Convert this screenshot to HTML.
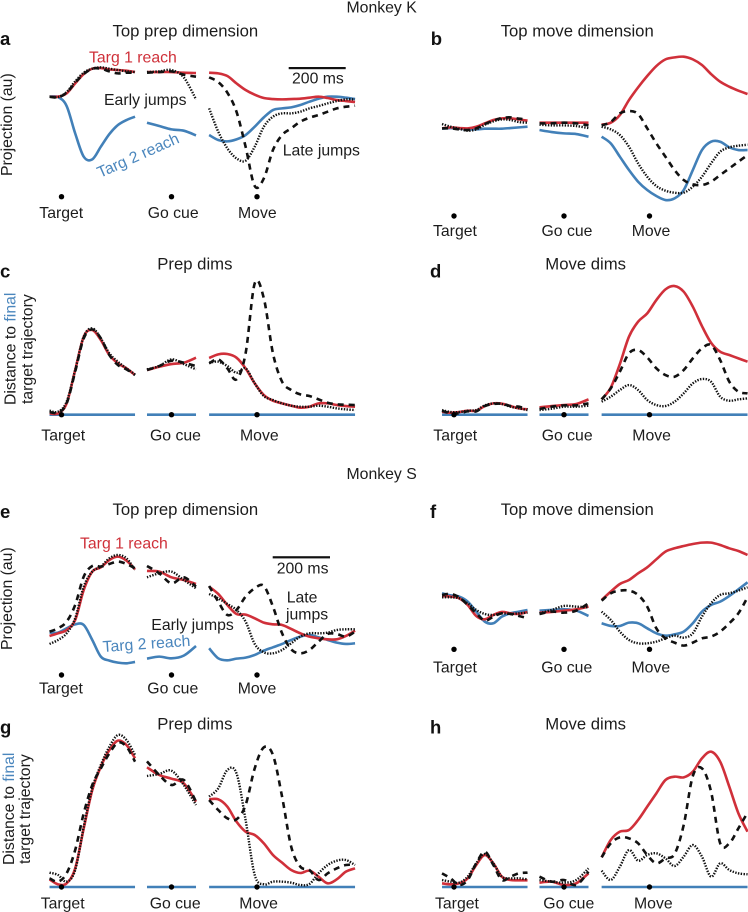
<!DOCTYPE html>
<html lang="en">
<head>
<meta charset="utf-8">
<title>Monkey K and Monkey S neural projections</title>
<style>
html,body{margin:0;padding:0;background:#fff;}
svg{display:block;}
text{font-family:"Liberation Sans",Arial,sans-serif;font-size:15.8px;fill:#1c1c1c;}
.ttl{font-size:16.7px;}
.pl{font-size:18.5px;font-weight:bold;fill:#111;}
.red{fill:#cf3039;}
.blue{fill:#4a86bd;}
</style>
</head>
<body>
<svg id="figure" width="748" height="912" viewBox="0 0 748 912" xmlns="http://www.w3.org/2000/svg">
<rect width="748" height="912" fill="#fff"/>
<text x="346.5" y="12.5">Monkey K</text>
<text x="346.5" y="479">Monkey S</text>

<text class="pl" x="0" y="45">a</text>
<text class="ttl" x="112.5" y="36.7">Top prep dimension</text>
<text transform="translate(12,176) rotate(-90)">Projection (au)</text>
<text class="red" x="89" y="62.7">Targ 1 reach</text>
<text x="104" y="105">Early jumps</text>
<text class="blue" transform="translate(100,178) rotate(-24)">Targ 2 reach</text>
<text x="282.7" y="155.3">Late jumps</text>
<rect x="288.7" y="67" width="57" height="2.2" fill="#111"/>
<text x="292" y="83.3">200 ms</text>
<text x="39.3" y="218">Target</text>
<text x="147.7" y="218">Go cue</text>
<text x="238" y="218">Move</text>

<text class="pl" x="430.7" y="45">b</text>
<text class="ttl" x="500.7" y="36.7">Top move dimension</text>
<text x="433" y="236">Target</text>
<text x="541.5" y="236">Go cue</text>
<text x="631.7" y="236">Move</text>

<text class="pl" x="0" y="277.7">c</text>
<text class="ttl" x="157.3" y="269.3">Prep dims</text>
<text transform="translate(15.7,405) rotate(-90)">Distance to <tspan class="blue">final</tspan></text>
<text transform="translate(32.5,404) rotate(-90)">target trajectory</text>
<text x="41.3" y="440.7">Target</text>
<text x="150" y="440.7">Go cue</text>
<text x="240" y="440.7">Move</text>

<text class="pl" x="430" y="277.7">d</text>
<text class="ttl" x="545.3" y="269.3">Move dims</text>
<text x="433.3" y="440.7">Target</text>
<text x="541.7" y="440.7">Go cue</text>
<text x="632.3" y="440.7">Move</text>

<text class="pl" x="0" y="518">e</text>
<text class="ttl" x="112.5" y="515">Top prep dimension</text>
<text transform="translate(12,650) rotate(-90)">Projection (au)</text>
<text class="red" x="80" y="548.3">Targ 1 reach</text>
<text x="151.3" y="630">Early jumps</text>
<text class="blue" transform="translate(103,652) rotate(-4)">Targ 2 reach</text>
<text x="286.7" y="602.7">Late</text>
<text x="286" y="619.3">jumps</text>
<rect x="272.7" y="556.2" width="57.3" height="2.2" fill="#111"/>
<text x="276.7" y="573.3">200 ms</text>
<text x="39" y="693.3">Target</text>
<text x="147.3" y="693.3">Go cue</text>
<text x="237.7" y="693.3">Move</text>

<text class="pl" x="430" y="518">f</text>
<text class="ttl" x="500.7" y="515">Top move dimension</text>
<text x="433" y="672.3">Target</text>
<text x="541.3" y="672.3">Go cue</text>
<text x="631.5" y="672.3">Move</text>

<text class="pl" x="0" y="733.3">g</text>
<text class="ttl" x="157.3" y="729.3">Prep dims</text>
<text transform="translate(14,865) rotate(-90)">Distance to <tspan class="blue">final</tspan></text>
<text transform="translate(30,864) rotate(-90)">target trajectory</text>
<text x="40.7" y="908.3">Target</text>
<text x="149.7" y="908.3">Go cue</text>
<text x="239.3" y="908.3">Move</text>

<text class="pl" x="430" y="733.3">h</text>
<text class="ttl" x="545.3" y="729.3">Move dims</text>
<text x="435" y="908.3">Target</text>
<text x="543.3" y="908.3">Go cue</text>
<text x="634" y="908.3">Move</text>
</svg>

<script>
// Time samples (ms relative to each alignment event)
const timesTarget = [-42,-12,18,48,78,108,138,168,198,228,258];
const timesGo = [-86,-43,0,43,86];
const timesMove = [-168,-136,-104,-72,-40,-8,24,56,88,120,152,184,216,248,280,312,344];

// Distance to final target trajectory is zero by definition
const zeroTarget = [0,0,0,0,0,0,0,0,0,0,0];
const zeroGo = [0,0,0,0,0];
const zeroMove = [0,0,0,0,0,0,0,0,0,0,0,0,0,0,0,0,0];

// Panel a
const aBlueTarget = [0,-1,-28,-110,-180,-188,-150,-112,-85,-70,-60];
const aBlueGo = [-78,-88,-98,-102,-116];
const aBlueMove = [-115,-130,-134,-128,-115,-90,-62,-40,-35,-32,-25,-15,-6,0,0,-3,-7];
const aRedTarget = [0,0,10,40,68,84,86,82,80,78,74];
const aRedGo = [74,74,74,72,71];
const aRedMove = [72,70,62,40,20,6,-4,-7,-8,-7,-6,-3,0,-4,-10,-13,-16];
const aDotTarget = [0,-1,14,46,72,84,88,84,80,76,74];
const aDotGo = [74,76,80,58,-8];
const aDotMove = [-35,-105,-155,-185,-192,-150,-90,-60,-50,-50,-45,-35,-28,-20,-13,-8,-8];
const aDashTarget = [0,-2,12,42,68,84,84,76,70,72,72];
const aDashGo = [72,74,76,66,60];
const aDashMove = [58,44,12,-45,-150,-268,-245,-160,-115,-95,-75,-63,-55,-45,-35,-30,-27];

// Panel b
const bBlueTarget = [-6,-4,-6,-8,-8,-6,-6,-6,-4,-2,0];
const bBlueGo = [-10,-16,-20,-22,-30];
const bBlueMove = [-30,-50,-90,-130,-165,-190,-208,-220,-215,-190,-130,-70,-45,-45,-62,-70,-70];
const bRedTarget = [-5,-2,-4,-5,0,10,20,25,25,22,18];
const bRedGo = [12,12,12,12,12];
const bRedMove = [6,12,35,80,118,152,182,202,208,210,202,185,158,135,120,108,98];
const bDotTarget = [8,0,-6,-12,-8,6,16,22,20,14,12];
const bDotGo = [6,4,4,2,-4];
const bDotMove = [0,-8,-25,-60,-110,-150,-178,-192,-198,-198,-180,-150,-110,-75,-62,-57,-54];
const bDashTarget = [-5,-5,-8,-10,-5,8,18,26,28,24,22];
const bDashGo = [10,10,12,10,4];
const bDashMove = [4,14,40,47,38,-5,-50,-90,-130,-160,-173,-175,-165,-145,-125,-105,-85];

// Panel c
const cRedTarget = [4,4,34,134,234,254,224,179,154,139,119];
const cRedGo = [134,144,152,156,171];
const cRedMove = [170,181,182,171,139,94,59,42,34,27,21,24,34,34,29,26,24];
const cDotTarget = [12,9,39,134,234,259,229,184,159,139,121];
const cDotGo = [136,146,166,152,136];
const cDotMove = [156,159,146,126,139,94,56,44,34,27,24,24,27,24,19,16,14];
const cDashTarget = [8,6,34,129,229,256,229,179,149,136,119];
const cDashGo = [134,146,162,156,146];
const cDashMove = [154,166,139,106,184,394,349,184,99,74,61,56,46,36,31,30,29];

// Panel d
const dRedTarget = [9,6,8,12,12,26,34,33,26,19,16];
const dRedGo = [22,26,29,32,46];
const dRedMove = [46,81,152,234,279,304,344,376,386,369,324,266,216,189,179,169,159];
const dDotTarget = [14,8,8,12,14,28,34,32,24,19,14];
const dDotGo = [14,18,24,24,27];
const dDotMove = [39,54,74,89,74,44,29,26,39,64,94,107,99,54,42,46,49];
const dDashTarget = [12,4,4,10,10,26,32,33,26,24,16];
const dDashGo = [17,24,28,28,34];
const dDashMove = [46,79,129,184,194,172,139,119,114,134,169,199,209,164,99,69,64];

// Panel e
const eBlueTarget = [2,2,15,27,25,-20,-70,-82,-88,-90,-86];
const eBlueGo = [-76,-70,-75,-67,-38];
const eBlueMove = [-45,-75,-81,-76,-73,-65,-52,-42,-32,-20,-10,-5,-12,-20,-28,-32,-30];
const eRedTarget = [-8,0,10,40,130,185,198,220,230,218,192];
const eRedGo = [187,185,168,160,148];
const eRedMove = [140,118,85,58,56,45,32,27,25,13,0,-10,-15,-18,-18,-8,8];
const eDotTarget = [-32,-20,0,45,140,185,200,225,235,225,190];
const eDotGo = [168,180,185,160,135];
const eDotMove = [118,105,88,70,35,-32,-57,-60,-50,-30,-10,0,0,2,10,12,12];
const eDashTarget = [5,15,35,85,170,202,200,208,215,208,195];
const eDashGo = [202,180,150,168,140];
const eDashMove = [142,95,55,70,110,135,142,80,0,-48,-60,-50,-25,-2,-2,-10,5];

// Panel f
const fBlueTarget = [60,54,50,35,5,-25,-30,-10,0,5,10];
const fBlueGo = [8,10,12,8,-8];
const fBlueMove = [-30,-38,-38,-28,-30,-45,-60,-67,-63,-55,-30,5,25,35,52,72,93];
const fRedTarget = [52,50,45,25,-8,-18,-5,4,0,-2,4];
const fRedGo = [2,4,8,12,20];
const fRedMove = [40,65,88,100,120,138,162,185,195,202,208,212,212,205,195,187,175];
const fDotTarget = [48,48,45,30,10,-2,-5,0,-2,0,2];
const fDotGo = [0,10,22,20,18];
const fDotMove = [5,-20,-55,-80,-90,-90,-85,-75,-67,-73,-60,-10,30,55,60,68,78];
const fDashTarget = [55,58,48,25,0,-22,-10,0,-2,-8,-15];
const fDashGo = [-2,5,2,8,30];
const fDashMove = [38,60,68,68,55,20,-45,-75,-88,-97,-88,-75,-70,-55,-30,0,48];

// Panel g
const gRedTarget = [23,8,11,56,176,291,361,411,439,426,386];
const gRedGo = [359,336,325,311,256];
const gRedMove = [263,263,241,196,166,156,131,96,73,51,42,49,31,11,23,46,56];
const gDotTarget = [43,36,16,51,181,296,366,421,456,441,396];
const gDotGo = [333,339,349,306,246];
const gDotMove = [271,296,351,341,201,36,8,16,16,13,6,9,41,66,79,81,66];
const gDashTarget = [26,16,41,111,221,306,356,401,433,421,376];
const gDashGo = [377,336,306,321,256];
const gDashMove = [261,231,206,203,246,356,419,396,271,121,61,51,21,41,56,66,66];

// Panel h
const hRedTarget = [11,8,11,26,66,96,71,31,21,20,20];
const hRedGo = [13,16,6,11,41];
const hRedMove = [89,141,166,171,201,241,281,321,331,329,346,386,406,376,301,221,166];
const hDotTarget = [21,16,13,31,71,99,71,31,26,26,23];
const hDotGo = [21,16,13,21,56];
const hDotMove = [49,21,61,111,79,96,101,86,63,91,126,91,31,71,51,41,38];
const hDashTarget = [41,26,6,21,71,106,66,21,31,41,43];
const hDashGo = [31,16,21,6,46];
const hDashMove = [89,131,149,146,131,96,71,86,99,186,333,356,286,131,131,176,223];

const segmentTimes = [timesTarget, timesGo, timesMove];
const segmentNames = ['target', 'go-cue', 'move'];
const eventX = [61.5, 171.5, 257];
const pxPerMs = 0.285;
const pxPerUnit = 1 / 3;
const svgNS = 'http://www.w3.org/2000/svg';
const figure = document.getElementById('figure');

const styles = {
  blue: {stroke: '#4280b8', width: 2.6, dash: null},
  red: {stroke: '#d0303a', width: 2.6, dash: null},
  dotted: {stroke: '#111', width: 2.4, dash: '1.4 1.4'},
  dashed: {stroke: '#111', width: 2.6, dash: '6 5'}
};

function xAxis(panel, seg, t) {
  return panel.dx + eventX[seg] + t * pxPerMs;
}
function yAxis(panel, v) {
  return panel.y0 - v * pxPerUnit;
}
function smoothPath(pts) {
  let d = 'M' + pts[0][0].toFixed(2) + ' ' + pts[0][1].toFixed(2);
  for (let i = 0; i < pts.length - 1; i++) {
    const p0 = pts[Math.max(i - 1, 0)];
    const p1 = pts[i];
    const p2 = pts[i + 1];
    const p3 = pts[Math.min(i + 2, pts.length - 1)];
    const c1x = p1[0] + (p2[0] - p0[0]) / 6;
    const c1y = p1[1] + (p2[1] - p0[1]) / 6;
    const c2x = p2[0] - (p3[0] - p1[0]) / 6;
    const c2y = p2[1] - (p3[1] - p1[1]) / 6;
    d += 'C' + c1x.toFixed(2) + ' ' + c1y.toFixed(2) + ' ' + c2x.toFixed(2) + ' ' + c2y.toFixed(2) + ' ' + p2[0].toFixed(2) + ' ' + p2[1].toFixed(2);
  }
  return d;
}

const zeros = [zeroTarget, zeroGo, zeroMove];
const panels = [
  {id: 'a', dx: 0, y0: 96.7, dotY: 196.7, series: {
    blue: [aBlueTarget, aBlueGo, aBlueMove], red: [aRedTarget, aRedGo, aRedMove],
    dotted: [aDotTarget, aDotGo, aDotMove], dashed: [aDashTarget, aDashGo, aDashMove]}},
  {id: 'b', dx: 392.5, y0: 126.7, dotY: 216, series: {
    blue: [bBlueTarget, bBlueGo, bBlueMove], red: [bRedTarget, bRedGo, bRedMove],
    dotted: [bDotTarget, bDotGo, bDotMove], dashed: [bDashTarget, bDashGo, bDashMove]}},
  {id: 'c', dx: 0, y0: 414.7, dotY: 414.7, series: {
    blue: zeros, red: [cRedTarget, cRedGo, cRedMove],
    dotted: [cDotTarget, cDotGo, cDotMove], dashed: [cDashTarget, cDashGo, cDashMove]}},
  {id: 'd', dx: 392.5, y0: 414.7, dotY: 414.7, series: {
    blue: zeros, red: [dRedTarget, dRedGo, dRedMove],
    dotted: [dDotTarget, dDotGo, dDotMove], dashed: [dDashTarget, dDashGo, dDashMove]}},
  {id: 'e', dx: 0, y0: 633.3, dotY: 675, series: {
    blue: [eBlueTarget, eBlueGo, eBlueMove], red: [eRedTarget, eRedGo, eRedMove],
    dotted: [eDotTarget, eDotGo, eDotMove], dashed: [eDashTarget, eDashGo, eDashMove]}},
  {id: 'f', dx: 392.5, y0: 613.3, dotY: 649.3, series: {
    blue: [fBlueTarget, fBlueGo, fBlueMove], red: [fRedTarget, fRedGo, fRedMove],
    dotted: [fDotTarget, fDotGo, fDotMove], dashed: [fDashTarget, fDashGo, fDashMove]}},
  {id: 'g', dx: 0, y0: 887, dotY: 887, series: {
    blue: zeros, red: [gRedTarget, gRedGo, gRedMove],
    dotted: [gDotTarget, gDotGo, gDotMove], dashed: [gDashTarget, gDashGo, gDashMove]}},
  {id: 'h', dx: 392.5, y0: 887, dotY: 887, series: {
    blue: zeros, red: [hRedTarget, hRedGo, hRedMove],
    dotted: [hDotTarget, hDotGo, hDotMove], dashed: [hDashTarget, hDashGo, hDashMove]}}
];

const drawOrder = ['blue', 'red', 'dotted', 'dashed'];
panels.forEach(function (panel) {
  drawOrder.forEach(function (key) {
    const style = styles[key];
    panel.series[key].forEach(function (values, seg) {
      const pts = values.map(function (v, i) {
        return [xAxis(panel, seg, segmentTimes[seg][i]), yAxis(panel, v)];
      });
      const path = document.createElementNS(svgNS, 'path');
      path.setAttribute('d', smoothPath(pts));
      path.setAttribute('fill', 'none');
      path.setAttribute('stroke', style.stroke);
      path.setAttribute('stroke-width', style.width);
      if (style.dash) path.setAttribute('stroke-dasharray', style.dash);
      
      
      figure.appendChild(path);
    });
  });
  eventX.forEach(function (x, seg) {
    const dot = document.createElementNS(svgNS, 'circle');
    dot.setAttribute('cx', panel.dx + x);
    dot.setAttribute('cy', panel.dotY);
    dot.setAttribute('r', 2.7);
    dot.setAttribute('fill', '#000');
    
    
    figure.appendChild(dot);
  });
});
</script>
</body>
</html>
